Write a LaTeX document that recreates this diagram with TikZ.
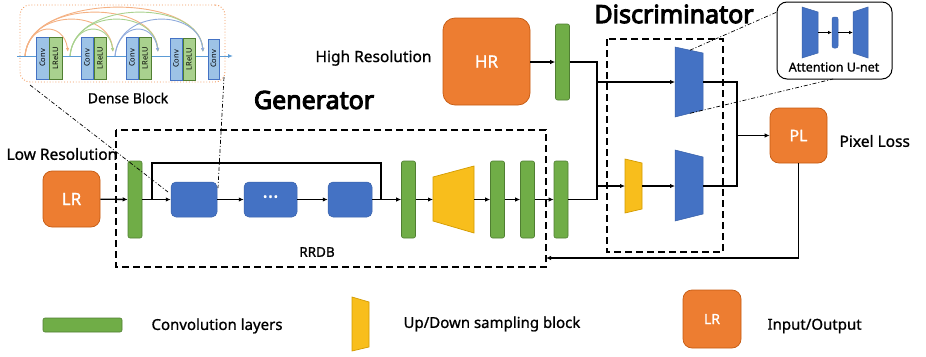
\documentclass[tikz,border=0pt]{standalone}
\usepackage{fontspec}
\setmainfont{Noto Sans}
\newfontfamily\headfont{Noto Sans}[FakeBold=4]
\newfontfamily\midfont{Noto Sans}[FakeBold=1]
\usetikzlibrary{arrows.meta}
\definecolor{orng}{HTML}{ED7D31}
\definecolor{orngd}{HTML}{C55A11}
\definecolor{grn}{HTML}{70AD47}
\definecolor{grnd}{HTML}{507E32}
\definecolor{blu}{HTML}{4472C4}
\definecolor{blud}{HTML}{3A62AA}
\definecolor{ylw}{HTML}{F8BE1C}
\definecolor{ylwd}{HTML}{D39B00}
\definecolor{lblu}{HTML}{9DC3E6}
\definecolor{lgrn}{HTML}{A9D18E}
\definecolor{arcO}{HTML}{F4B183}
\definecolor{arcG}{HTML}{A9D18E}
\definecolor{arcB}{HTML}{8FAADC}
\definecolor{lineB}{HTML}{5B9BD5}
\tikzset{
  io/.style={draw=orngd, line width=0.7pt, fill=orng, rounded corners=9pt,
    text=white, inner sep=0, font=\midfont\fontsize{17}{17}\selectfont},
  convbar/.style={draw=grnd, line width=0.6pt, fill=grn, rounded corners=2pt,
    minimum width=14pt, minimum height=77pt, inner sep=0},
  rrdbblk/.style={draw=blud, line width=0.5pt, fill=blu, rounded corners=5pt,
    minimum height=35pt, inner sep=0, text=white},
  hull/.style={inner sep=0, outer sep=0},
  upblk/.style={draw=ylwd, line width=0.7pt, fill=ylw},
  discblk/.style={draw=blud, line width=0.5pt, fill=blu},
  dashframe/.style={line width=1.5pt, dash pattern=on 7pt off 4pt},
  dashdot/.style={line width=0.7pt, dash pattern=on 4pt off 2pt on 1pt off 2pt},
  link/.style={line width=1.3pt},
  arr/.style={link, -{Latex[length=5pt,width=4.5pt]}},
  convsm/.style={draw=blu, line width=0.5pt, fill=lblu, minimum width=12.5pt,
    minimum height=42pt, inner sep=0},
  relusm/.style={draw=grnd, line width=0.5pt, fill=lgrn, minimum width=12.5pt,
    minimum height=42pt, inner sep=0},
  smalltxt/.style={font=\fontsize{7.5}{7.5}\selectfont, rotate=90},
  lbl/.style={font=\midfont\fontsize{15.5}{16}\selectfont},
  title/.style={font=\headfont\fontsize{25}{26}\selectfont},
  legtxt/.style={font=\midfont\fontsize{15}{16}\selectfont}
}
\begin{document}
\begin{tikzpicture}[x=1pt,y=-1pt]
\useasboundingbox (0,0) rectangle (926,356);

% ---------- dense block detail ----------
\node[hull, draw=orng!80, dotted, line width=0.9pt, rounded corners=10pt,
  minimum width=205pt, minimum height=77pt] (dense) at (122.5,43.5) {};
\foreach \s/\e/\c/\r in {25/68/arcO/26, 25/113/arcO/36, 25/158/arcO/43,
    25/203/arcO/48, 70/113/arcG/26, 70/158/arcG/36, 70/203/arcG/43,
    115/158/arcB/26, 115/203/arcB/36}
  \draw[\c, line width=0.9pt, -{Latex[length=4pt,width=3.5pt]}]
    (\s,56) .. controls (\s+4,56-\r*1.33) and (\e-4,56-\r*1.33) .. (\e,52);
\coordinate (dl) at (17,56);
\coordinate (dr) at (233,56);
\draw[lineB, line width=1pt, -{Latex[length=5pt,width=4pt]}] (dl) -- (dr);
\foreach \cx/\cy/\k in {42.5/58/1, 87/58/2, 132/58/3, 176/59/4} {
  \node[convsm] (c\k) at (\cx,\cy) {};
  \node[smalltxt] at (c\k) {Conv};
  \node[relusm, anchor=west] (r\k) at (c\k.east) {};
  \node[smalltxt] at (r\k) {LReLU};
}
\node[convsm, minimum width=11pt, minimum height=40pt] (c5) at (213.5,59) {};
\node[smalltxt] at (c5) {Conv};
\node[font=\midfont\fontsize{14}{14}\selectfont] (densetxt) at (128,98) {Dense Block};

% ---------- generator ----------
\node[title] (gentitle) at (314,100) {Generator};
\node[lbl, anchor=west] (lrtxt) at (3,154) {Low Resolution};
\node[io, minimum width=57pt, minimum height=56pt] (lr) at (71.5,199) {LR};
\node[convbar] (g1) at (135,199.5) {};
\node[rrdbblk, minimum width=46pt] (b1) at (194,199.5) {};
\node[rrdbblk, minimum width=53pt, font=\midfont\fontsize{20}{20}\selectfont] (b2) at (270.5,199.5) {···};
\node[rrdbblk, minimum width=44pt] (b3) at (350,199.5) {};
\node[convbar] (g2) at (408.5,199.5) {};
\node[hull, minimum width=41pt, minimum height=66pt] (gup) at (453.5,199.5) {};
\filldraw[upblk] (433,177) -- (474,166) -- (474,233) -- (433,221) -- cycle;
\node[convbar] (g3) at (497.5,199.5) {};
\node[convbar] (g4) at (527.5,199.5) {};
\node[convbar] (g5) at (561,199.5) {};
\node[font=\midfont\fontsize{13.5}{14}\selectfont] (rrdbtxt) at (317,252) {RRDB};
\draw[dashframe] (116,130) rectangle (546,267);

\draw[arr] (lr) -- (g1);
\draw[arr] (g1) -- (b1);
\draw[arr] (b1) -- (b2);
\draw[arr] (b2) -- (b3);
\draw[arr] (b3) -- (g2);
\coordinate (skipa) at (152,199.5);
\coordinate (skipb) at (381,199.5);
\draw[link] (skipa) -- (152,163) -- (381,163) -- (skipb);
\draw[arr] (g2) -- (gup);
\draw[arr] (gup) -- (g3);
\draw[arr] (g3) -- (g4);
\draw[arr] (g4) -- (g5);

% ---------- high resolution branch ----------
\node[lbl, anchor=east] (hrtxt) at (435,58) {High Resolution};
\node[io, rounded corners=12pt, minimum width=87pt, minimum height=87pt] (hr) at (486.5,61.5) {HR};
\node[convbar, minimum height=76pt] (gh) at (562.5,62) {};
\draw[arr] (hr.east |- gh) -- (gh);

% ---------- discriminator ----------
\node[title] (disctitle) at (674,14) {Discriminator};
\draw[dashframe] (607,39) rectangle (723,252);
\node[hull, minimum width=28pt, minimum height=70pt] (du) at (689,82) {};
\filldraw[discblk] (675,47) -- (703,53) -- (703,110) -- (675,117) -- cycle;
\node[hull, minimum width=28pt, minimum height=70pt] (dd) at (689,186) {};
\filldraw[discblk] (675,150) -- (703,157) -- (703,214) -- (675,221) -- cycle;
\node[hull, minimum width=17pt, minimum height=54pt] (ys) at (633.5,186) {};
\filldraw[upblk] (625,159) -- (642,163) -- (642,209) -- (625,213) -- cycle;

\coordinate (jt) at (597,62);
\coordinate (jb) at (597,199.5);
\draw[link] (gh) -- (jt) -- (jb) -- (g5);
\draw[arr] (jt |- du) -- (du);
\draw[arr] (jt |- ys) -- (ys);
\draw[arr] (ys) -- (dd);

\node[io, minimum width=57pt, minimum height=55pt, font=\midfont\fontsize{16}{16}\selectfont] (pl) at (798.5,135.5) {PL};
\node[lbl, anchor=west] (pltxt) at (836,141) {Pixel Loss};
\coordinate (mr) at (737,135.5);
\draw[link] (du.east) -- (mr |- du) -- (mr |- dd) -- (dd.east);
\draw[arr] (mr) -- (pl);
\coordinate (fb) at (546,258);
\draw[arr] (pl.south) -- (pl.south |- fb) -- (fb);

% ---------- attention U-net detail ----------
\node[hull, draw, line width=1pt, rounded corners=10pt, minimum width=115pt,
  minimum height=77pt] (unet) at (834.5,40.5) {};
\filldraw[discblk] (802,7) -- (818,12) -- (818,53) -- (802,58) -- cycle;
\node[hull, minimum width=16pt, minimum height=51pt] (ua) at (810,32.5) {};
\node[discblk, hull, rounded corners=2pt, minimum width=6pt, minimum height=31pt] (ub) at (835,32.5) {};
\filldraw[discblk] (853,12) -- (868,7) -- (868,58) -- (853,53) -- cycle;
\node[hull, minimum width=15pt, minimum height=51pt] (uc) at (860.5,32.5) {};
\draw[line width=1pt, -{Latex[length=4pt,width=3.5pt]}] (ua.east) -- (ub.west);
\draw[line width=1pt, -{Latex[length=4pt,width=3.5pt]}] (ub.east) -- (uc.west);
\node[font=\midfont\fontsize{12.5}{12.5}\selectfont] (unettxt) at (834,67) {Attention U-net};

% ---------- magnification guides ----------
\coordinate (dmt) at (690,50.2);
\coordinate (dmb) at (690,113.3);
\draw[dashdot] (dmt) -- (777,12);
\draw[dashdot] (dmb) -- (833,79);
\coordinate (zoomend) at (168,192);
\draw[dashdot] (30,85) -- (zoomend);
\draw[dashdot] (224,77) -- (218,188);

% ---------- legend ----------
\node[convbar, minimum width=79pt, minimum height=14pt] (leg1) at (82.5,325) {};
\node[legtxt, anchor=west] (leg1txt) at (148,326) {Convolution layers};
\node[hull, minimum width=17pt, minimum height=54pt] (leg2) at (360.5,324) {};
\filldraw[upblk] (352,297) -- (369,302) -- (369,347) -- (352,351) -- cycle;
\node[legtxt, anchor=west] (leg2txt) at (400,324) {Up/Down sampling block};
\node[io, minimum width=58pt, minimum height=58pt, font=\midfont\fontsize{14}{14}\selectfont] (leg3) at (712,319) {LR};
\node[legtxt, anchor=west] (leg3txt) at (764,326) {Input/Output};
\end{tikzpicture}
\end{document}
